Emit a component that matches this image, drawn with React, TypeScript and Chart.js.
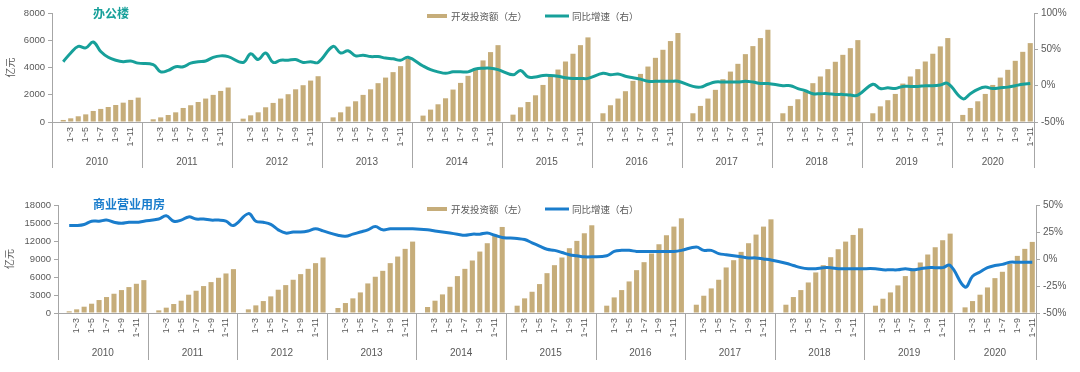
import React, { useEffect, useRef } from 'react';
import { Chart, registerables } from 'chart.js';

Chart.register(...registerables);

// ---------- data ----------
const years = ['2010', '2011', '2012', '2013', '2014', '2015', '2016', '2017', '2018', '2019', '2020'];
const monthLabels = ['1', '1~2', '1~3', '1~4', '1~5', '1~6', '1~7', '1~8', '1~9', '1~10', '1~11', '1~12'];
const monthsInLastYear = 11;
const shownMonthLabels = ['1~3', '1~5', '1~7', '1~9', '1~11'];

// 办公楼 开发投资额 (亿元), January has no separate figure
const officeInvest = [
  null, 150, 270, 420, 560, 810, 960, 1100, 1250, 1420, 1620, 1790,
  null, 200, 340, 515, 710, 1030, 1230, 1470, 1720, 1990, 2280, 2530,
  null, 245, 490, 710, 1080, 1400, 1720, 2040, 2400, 2700, 3040, 3360,
  null, 340, 710, 1130, 1520, 1990, 2400, 2850, 3260, 3660, 4100, 4640,
  null, 470, 910, 1300, 1740, 2380, 2870, 3390, 3880, 4520, 5130, 5640,
  null, 540, 1080, 1470, 1960, 2720, 3360, 3850, 4440, 5010, 5640, 6210,
  null, 640, 1230, 1720, 2260, 3020, 3530, 4070, 4710, 5300, 5940, 6530,
  null, 640, 1180, 1720, 2360, 3140, 3700, 4270, 4980, 5570, 6160, 6770,
  null, 640, 1180, 1670, 2230, 2850, 3340, 3880, 4420, 4930, 5420, 6010,
  null, 640, 1150, 1600, 2060, 2820, 3340, 3880, 4440, 5010, 5550, 6160,
  null, 520, 1030, 1520, 2060, 2720, 3260, 3830, 4490, 5150, 5790,
];
// 办公楼 同比增速 (%)
const officeGrowth = [
  null, 33, 45, 54, 52, 60, 47, 39, 35, 33, 34, 31,
  null, 29, 19, 21, 26, 26, 31, 33, 34, 39, 41, 40,
  null, 32, 44, 36, 45, 32, 35, 35, 36, 32, 33, 32,
  null, 54, 45, 48, 41, 42, 40, 40, 38, 37, 35, 39,
  null, 27, 22, 19, 17, 19, 19, 19, 23, 24, 24, 22,
  null, 15, 21, 12, 12, 14, 14, 13, 11, 10, 10, 10,
  null, 17, 15, 16, 13, 11, 9, 6, 6, 6, 6, 6,
  null, -1, -2, 2, 5, 5, 5, 5, 6, 5, 3, 3,
  null, 0, 0, -4, -7, -11, -11, -11, -12, -12, -13, -13,
  null, 2, -4, -3, -4, -1, -1, -1, 0, 0, 1, 3,
  null, -18, -11, -5, -2, -4, -3, -2, 0, 2, 3,
];
// 商业营业用房 开发投资额 (亿元)
const retailInvest = [
  null, 280, 610, 1050, 1550, 2160, 2660, 3210, 3820, 4320, 4870, 5480,
  null, 440, 890, 1500, 2050, 3050, 3710, 4490, 5150, 5870, 6590, 7310,
  null, 610, 1270, 1990, 2770, 3880, 4650, 5540, 6480, 7360, 8310, 9250,
  null, 830, 1660, 2440, 3430, 4930, 6040, 7030, 8310, 9410, 10690, 11900,
  null, 1000, 2050, 3100, 4370, 6150, 7360, 8750, 10240, 11630, 13120, 14340,
  null, 1220, 2440, 3540, 4820, 6640, 7970, 9250, 10800, 12020, 13290, 14620,
  null, 1220, 2600, 3820, 5260, 7140, 8470, 9910, 11460, 12960, 14400, 15780,
  null, 1380, 2880, 4100, 5540, 7590, 8800, 10190, 11630, 13070, 14400, 15610,
  null, 1380, 2660, 3820, 5090, 6760, 7970, 9300, 10630, 11900, 13010, 14120,
  null, 1220, 2380, 3430, 4600, 6150, 7420, 8420, 9750, 10960, 12130, 13230,
  null, 940, 1990, 3050, 4260, 5810, 6870, 8190, 9520, 10690, 11850,
];
// 商业营业用房 同比增速 (%)
const retailGrowth = [
  null, 31, 31, 32, 35, 35, 36, 34, 33, 34, 34, 35,
  null, 37, 40, 35, 36, 39, 37, 37, 36, 36, 35, 31,
  null, 42, 35, 34, 32, 27, 24, 25, 25, 26, 28, 26,
  null, 22, 21, 23, 25, 27, 30, 27, 28, 28, 28, 28,
  null, 27, 26, 25, 24, 23, 22, 23, 23, 24, 22, 20,
  null, 19, 18, 15, 12, 9, 8, 6, 4, 3, 2, 2,
  null, 3, 7, 8, 8, 7, 7, 7, 7, 7, 7, 8,
  null, 11, 8, 8, 5, 4, 3, 2, 1, 1, 0, -1,
  null, -4, -6, -8, -9, -9, -8, -8, -9, -9, -9, -9,
  null, -9, -10, -10, -10, -9, -10, -9, -8, -8, -8, -6,
  null, -26, -16, -12, -8, -6, -5, -3, -3, -3, -3,
];

const investLegend = '开发投资额（左）';
const growthLegend = '同比增速（右）';
const unitLabel = '亿元';

// ---------- build categories ----------
const categories: string[] = [];
years.forEach((y, yi) => {
  const n = yi === years.length - 1 ? monthsInLastYear : monthLabels.length;
  for (let m = 0; m < n; m++) categories.push(monthLabels[m]);
});

const FONT = '"Liberation Sans", Arial, "Noto Sans CJK SC", sans-serif';
const CJK = '"Noto Sans CJK SC", "Liberation Sans", sans-serif';
const TEXT = '#595959';
const AXIS = '#a6a6a6';
const BAR = '#c6ad7a';

type PanelCfg = {
  title: string;
  lineColor: string;
  invest: (number | null)[];
  growth: (number | null)[];
  leftMax: number;
  leftStep: number;
  rightMin: number;
  rightMax: number;
  rightStep: number;
  height: number;
  leftW: number;
  rightW: number;
  top: number;
  xH: number;
  titleY: number;
  legendY: number;
  unitX: number;
  sepLen: number;
};

function makeDecor(cfg: PanelCfg) {
  return {
    id: 'decor',
    afterDraw(chart: any) {
      const ctx = chart.ctx as CanvasRenderingContext2D;
      const area = chart.chartArea;
      const xs = chart.scales.x;
      const px = (i: number) => xs.getPixelForValue(i);
      const half = (px(1) - px(0)) / 2;
      ctx.save();
      // year separators & labels
      ctx.strokeStyle = AXIS;
      ctx.lineWidth = 1;
      const bounds: number[] = [];
      let idx = 0;
      years.forEach((y, yi) => {
        bounds.push(px(idx) - half);
        idx += yi === years.length - 1 ? monthsInLastYear : monthLabels.length;
      });
      bounds.push(px(idx - 1) + half);
      bounds.forEach((b) => {
        const bx = Math.round(b) + 0.5;
        ctx.beginPath();
        ctx.moveTo(bx, area.bottom);
        ctx.lineTo(bx, area.bottom + cfg.sepLen);
        ctx.stroke();
      });
      ctx.fillStyle = TEXT;
      ctx.font = `10px ${FONT}`;
      ctx.textAlign = 'center';
      ctx.textBaseline = 'middle';
      years.forEach((y, yi) => {
        ctx.fillText(y, (bounds[yi] + bounds[yi + 1]) / 2, area.bottom + 40);
      });
      // unit title
      ctx.save();
      ctx.translate(cfg.unitX, (area.top + area.bottom) / 2);
      ctx.rotate(-Math.PI / 2);
      ctx.font = `10px ${CJK}`;
      ctx.fillText(unitLabel, 0, 0);
      ctx.restore();
      // panel title
      ctx.font = `bold 12px ${CJK}`;
      ctx.fillStyle = cfg.lineColor;
      ctx.textAlign = 'left';
      ctx.fillText(cfg.title, 93, cfg.titleY);
      // legend
      ctx.fillStyle = BAR;
      ctx.fillRect(427, cfg.legendY - 2, 20, 4);
      ctx.fillStyle = TEXT;
      ctx.font = `9.5px ${CJK}`;
      ctx.fillText(investLegend, 451, cfg.legendY);
      ctx.strokeStyle = cfg.lineColor;
      ctx.lineWidth = 3;
      ctx.beginPath();
      ctx.moveTo(545, cfg.legendY);
      ctx.lineTo(569, cfg.legendY);
      ctx.stroke();
      ctx.fillText(growthLegend, 572, cfg.legendY);
      ctx.restore();
    },
  };
}

function Panel({ cfg }: { cfg: PanelCfg }) {
  const ref = useRef<HTMLCanvasElement>(null);
  useEffect(() => {
    if (!ref.current) return;
    const chart = new Chart(ref.current, {
      type: 'bar',
      data: {
        labels: categories,
        datasets: [
          {
            type: 'line',
            label: growthLegend,
            data: cfg.growth,
            yAxisID: 'yR',
            borderColor: cfg.lineColor,
            backgroundColor: cfg.lineColor,
            borderWidth: 3,
            pointRadius: 0,
            tension: 0.4,
            spanGaps: true,
            order: 1,
          } as any,
          {
            type: 'bar',
            label: investLegend,
            data: cfg.invest,
            yAxisID: 'yL',
            backgroundColor: BAR,
            barPercentage: 0.68,
            categoryPercentage: 1,
            order: 2,
          } as any,
        ],
      },
      options: {
        responsive: false,
        animation: false,
        devicePixelRatio: 1,
        layout: { padding: { top: cfg.top, left: 0, right: 0, bottom: 0 } },
        plugins: { legend: { display: false }, tooltip: { enabled: false }, title: { display: false } },
        scales: {
          x: {
            type: 'category',
            offset: true,
            grid: { display: false, drawTicks: false },
            border: { display: true, color: AXIS },
            ticks: {
              autoSkip: false,
              minRotation: 90,
              maxRotation: 90,
              padding: 5,
              color: TEXT,
              font: { size: 9, family: FONT },
              callback: (_v: any, i: number) => (shownMonthLabels.includes(categories[i]) ? categories[i] : ''),
            },
            afterFit: (s: any) => {
              s.height = cfg.xH;
            },
          },
          yL: {
            position: 'left',
            min: 0,
            max: cfg.leftMax,
            grid: { drawOnChartArea: false, tickLength: 4, color: AXIS },
            border: { display: true, color: AXIS },
            ticks: {
              stepSize: cfg.leftStep,
              padding: 3,
              color: TEXT,
              font: { size: 9.5, family: FONT },
              callback: (v: any) => String(v),
            },
            afterFit: (s: any) => {
              s.width = cfg.leftW;
            },
          },
          yR: {
            position: 'right',
            min: cfg.rightMin,
            max: cfg.rightMax,
            grid: { drawOnChartArea: false, tickLength: 4, color: AXIS },
            border: { display: true, color: AXIS },
            ticks: {
              stepSize: cfg.rightStep,
              padding: 3,
              color: TEXT,
              font: { size: 10, family: FONT },
              callback: (v: any) => `${v}%`,
            },
            afterFit: (s: any) => {
              s.width = cfg.rightW;
            },
          },
        },
      },
      plugins: [makeDecor(cfg)],
    } as any);
    return () => chart.destroy();
  }, [cfg]);
  return (
    <div style={{ width: 1080, height: cfg.height }}>
      <canvas ref={ref} width={1080} height={cfg.height} style={{ display: 'block' }} />
    </div>
  );
}

const topCfg: PanelCfg = {
  title: '办公楼',
  lineColor: '#17a09a',
  invest: officeInvest,
  growth: officeGrowth,
  leftMax: 8000,
  leftStep: 2000,
  rightMin: -50,
  rightMax: 100,
  rightStep: 50,
  height: 186,
  leftW: 52,
  rightW: 46,
  top: 13,
  xH: 64,
  titleY: 13,
  legendY: 16,
  unitX: 10,
  sepLen: 46,
};

const bottomCfg: PanelCfg = {
  title: '商业营业用房',
  lineColor: '#1a7dcc',
  invest: retailInvest,
  growth: retailGrowth,
  leftMax: 18000,
  leftStep: 3000,
  rightMin: -50,
  rightMax: 50,
  rightStep: 25,
  height: 186,
  leftW: 58,
  rightW: 44,
  top: 19,
  xH: 59,
  titleY: 18,
  legendY: 23,
  unitX: 9,
  sepLen: 47,
};

export default function App() {
  return (
    <div style={{ position: 'absolute', left: 0, top: 0, width: 1080, height: 372, background: '#fff' }}>
      <Panel cfg={topCfg} />
      <Panel cfg={bottomCfg} />
    </div>
  );
}
